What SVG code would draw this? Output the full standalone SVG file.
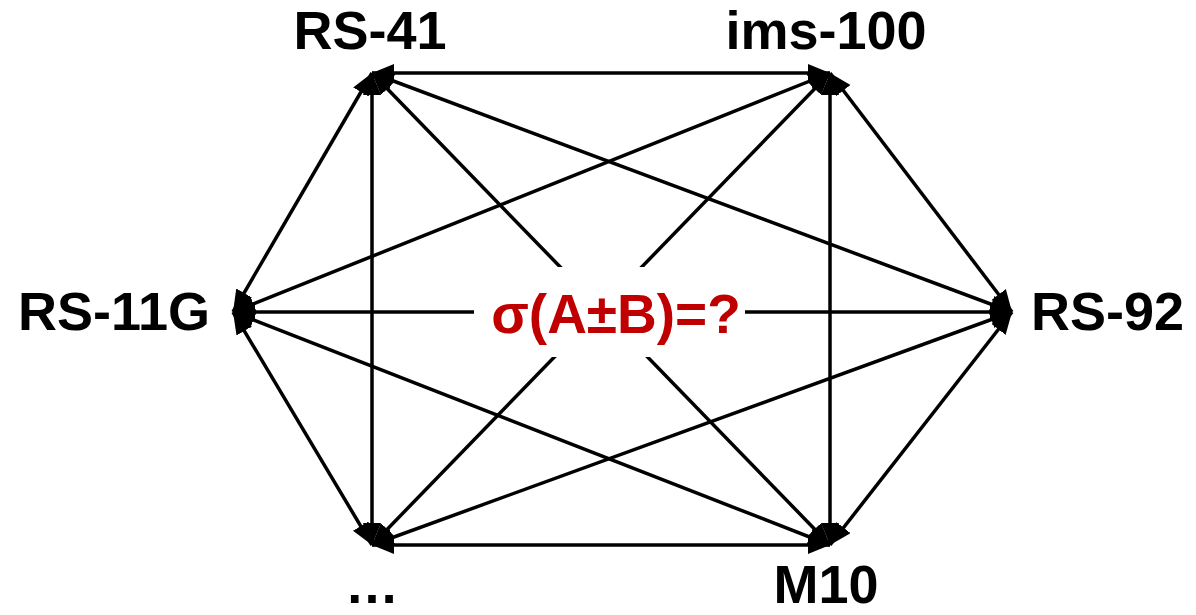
<svg xmlns="http://www.w3.org/2000/svg" width="1196" height="615" viewBox="0 0 1196 615">
<style>
.e{stroke:#000;stroke-width:3.5;fill:none;marker-start:url(#ah);marker-end:url(#ah)}
.lbl{font-family:"Liberation Sans",Arial,sans-serif;font-weight:bold;font-size:54px;fill:#000}
.q{font-family:"Liberation Sans",Arial,sans-serif;font-weight:bold;font-size:55px;fill:#C00000}
</style>
<defs>
<marker id="ah" markerUnits="userSpaceOnUse" markerWidth="24" markerHeight="20" refX="22" refY="9" orient="auto-start-reverse" viewBox="0 0 24 20">
<path d="M0,0 L22,9 L0,18 Z" fill="#000"/>
</marker>
</defs>
<rect width="1196" height="615" fill="#fff"/>
<g id="connectors">
<line class="e" x1="372" y1="73" x2="830" y2="73"/>
<line class="e" x1="372" y1="73" x2="1012" y2="312"/>
<line class="e" x1="372" y1="73" x2="830" y2="545"/>
<line class="e" x1="372" y1="73" x2="372" y2="545"/>
<line class="e" x1="372" y1="73" x2="233" y2="312"/>
<line class="e" x1="830" y1="73" x2="1012" y2="312"/>
<line class="e" x1="830" y1="73" x2="830" y2="545"/>
<line class="e" x1="830" y1="73" x2="372" y2="545"/>
<line class="e" x1="830" y1="73" x2="233" y2="312"/>
<line class="e" x1="1012" y1="312" x2="830" y2="545"/>
<line class="e" x1="1012" y1="312" x2="372" y2="545"/>
<line class="e" x1="1012" y1="312" x2="233" y2="312"/>
<line class="e" x1="830" y1="545" x2="372" y2="545"/>
<line class="e" x1="830" y1="545" x2="233" y2="312"/>
<line class="e" x1="372" y1="545" x2="233" y2="312"/>
</g>
<g id="center">
<rect x="474" y="267" width="271" height="90" fill="#fff"/>
<text class="q" x="616" y="333" text-anchor="middle">σ(A±B)=?</text>
</g>
<g id="n-rs41"><text class="lbl" x="370" y="49" text-anchor="middle">RS-41</text></g>
<g id="n-ims100"><text class="lbl" x="826" y="49" text-anchor="middle">ims-100</text></g>
<g id="n-rs11g"><text class="lbl" x="210" y="330" text-anchor="end">RS-11G</text></g>
<g id="n-rs92"><text class="lbl" x="1031" y="330">RS-92</text></g>
<g id="n-m10"><text class="lbl" x="826" y="603" text-anchor="middle">M10</text></g>
<g id="n-dots"><text class="lbl" x="372" y="603" text-anchor="middle">…</text></g>
</svg>
